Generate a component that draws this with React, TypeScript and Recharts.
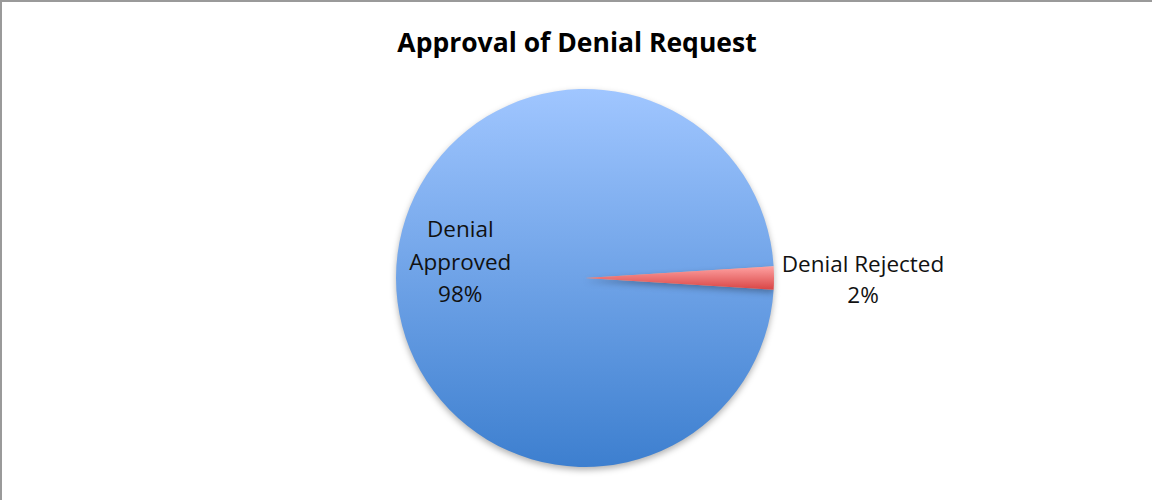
import { PieChart, Pie, Cell } from "recharts";

const TITLE = "Approval of Denial Request";
const CATEGORIES = ["Denial Approved", "Denial Rejected"];
const VALUES = [98, 2];
const LABEL_LINES = [["Denial", "Approved", "98%"], ["Denial Rejected", "2%"]];

const FONT = "'Open Sans', 'Liberation Sans', sans-serif";
const BORDER = "#9a9a9a";

const data = CATEGORIES.map((name, i) => ({ name, value: VALUES[i] }));

function renderLabel(props: any) {
  const { cx, cy, midAngle, outerRadius, index } = props;
  const rad = (-midAngle * Math.PI) / 180;
  const lines = LABEL_LINES[index];
  // big slice: label inside, small slice: label outside to the right
  const r = index === 0 ? outerRadius * 0.66 : outerRadius + 89;
  const x = cx + r * Math.cos(rad);
  const y = cy + r * Math.sin(rad);
  const top = index === 0 ? y - 41 : y - 6;
  const step = index === 0 ? 32.5 : 31;
  return (
    <text x={x} y={top} textAnchor="middle" fill="#111" fontSize={22.5} fontFamily={FONT}>
      {lines.map((l, k) => (
        <tspan key={k} x={x} dy={k === 0 ? 0 : step}>
          {l}
        </tspan>
      ))}
    </text>
  );
}

export default function App() {
  return (
    <div
      style={{
        position: "relative",
        width: 1152,
        height: 500,
        boxSizing: "border-box",
        borderTop: `2px solid ${BORDER}`,
        borderLeft: `2px solid ${BORDER}`,
        background: "#fff",
      }}
    >
      <style>{"body{margin:0} .recharts-pie-sector path{filter:drop-shadow(0 3px 3px rgba(0,0,0,0.3))}"}</style>
      <div
        style={{
          position: "absolute",
          top: 22,
          left: 0,
          width: 1150,
          textAlign: "center",
          fontFamily: FONT,
          fontWeight: 700,
          fontSize: 26.5,
          lineHeight: "36px",
          color: "#000",
        }}
      >
        {TITLE}
      </div>
      <PieChart width={1150} height={498}>
        <defs>
          <linearGradient id="blueFill" x1="0" y1="0" x2="0" y2="1">
            <stop offset="0%" stopColor="#a0c6ff" />
            <stop offset="100%" stopColor="#3d7fcf" />
          </linearGradient>
          <linearGradient id="redFill" x1="0" y1="0" x2="0" y2="1">
            <stop offset="0%" stopColor="#ffa2a2" />
            <stop offset="100%" stopColor="#d84444" />
          </linearGradient>
        </defs>
        <Pie
          data={data}
          dataKey="value"
          nameKey="name"
          cx={578}
          cy={271}
          outerRadius={189}
          startAngle={3.6}
          endAngle={363.6}
          stroke="none"
          label={renderLabel}
          labelLine={false}
          isAnimationActive={false}
        >
          <Cell fill="url(#blueFill)" />
          <Cell fill="url(#redFill)" />
        </Pie>
      </PieChart>
    </div>
  );
}
